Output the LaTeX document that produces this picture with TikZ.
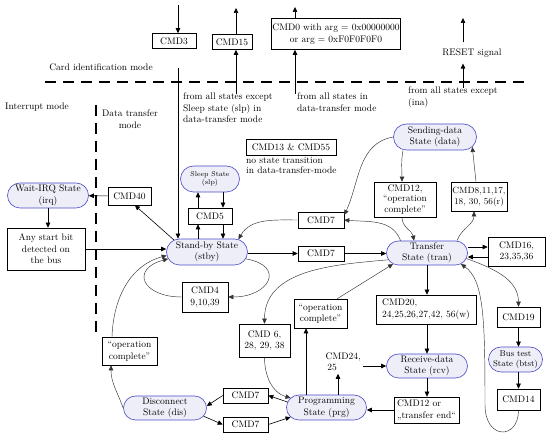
\documentclass[tikz,border=0pt]{standalone}
\usepackage{fontspec}
\usetikzlibrary{arrows.meta, shapes.misc}
\definecolor{lila}{HTML}{EEEEF9}
\definecolor{azulborde}{HTML}{4A4AC8}
\definecolor{grislinea}{HTML}{333333}

\begin{document}
\begin{tikzpicture}[
  x=1pt, y=-1pt,
  font=\fontsize{9.5}{11.5}\selectfont,
  estado/.style={rounded rectangle, draw=azulborde, fill=lila, line width=0.6pt, inner sep=0.5pt, align=center},
  caja/.style={draw, line width=0.6pt, inner sep=1pt, align=center},
  txt/.style={inner sep=0pt, align=left},
  arr/.style={-{Triangle[length=5pt,width=4.5pt]}, line width=0.6pt},
  curva/.style={-{Triangle[length=5pt,width=4.5pt]}, line width=0.45pt, grislinea},
  limite/.style={line width=1.3pt, dash pattern=on 11pt off 7pt},
]
\useasboundingbox (0,0) rectangle (558,443);

% --- Fila superior ---
\node[caja, minimum width=44pt, minimum height=15pt] (cmdiii) at (174,41) {CMD3};
\node[caja, minimum width=40pt, minimum height=15pt] (cmdxv) at (232,42) {CMD15};
\node[caja, minimum width=124pt, minimum height=31pt] (cmdzero) at (336,34) {CMD0 with arg = 0x00000000\\or arg = 0xF0F0F0F0};
\node[inner xsep=0pt, inner ysep=6pt] (reset) at (472,53) {RESET signal};
\node (cardmode) at (101,67) {Card identification mode};

\node[txt, anchor=north west] (fromslp) at (183,93) {from all states except\\Sleep state (slp) in\\data-transfer mode};
\node[txt, anchor=north west] (fromdt) at (297,93) {from all states in\\data-transfer mode};
\node[txt, anchor=north west] (fromina) at (408,87) {from all states except\\(ina)};

% --- Limites de modos ---
\draw[limite] (45,82) -- (528,82);
\draw[limite] (96,105) -- (96,332);
\node[anchor=west, inner sep=0pt] (intmode) at (5,107) {Interrupt mode};
\node[align=center, inner sep=0pt] (dtmode) at (130,119) {Data transfer\\mode};

\node[caja, minimum width=90pt, minimum height=16pt] (cmdxiii) at (291,147) {CMD13 \& CMD55};
\node[txt, anchor=north west, font=\fontsize{9.5}{10}\selectfont] (nota) at (246,157) {no state transition\\in data-transfer-mode};

% --- Estados y comandos ---
\node[estado, minimum width=84pt, minimum height=26pt] (data) at (435,137) {Sending-data\\State (data)};
\node[estado, minimum width=60pt, minimum height=26pt, font=\fontsize{7}{8.5}\selectfont] (slp) at (210,179) {Sleep State\\(slp)};
\node[estado, minimum width=82pt, minimum height=25pt] (irq) at (48,195.5) {Wait-IRQ State\\(irq)};
\node[caja, minimum width=43pt, minimum height=18pt] (cmdxl) at (129.5,196) {CMD40};
\node[caja, minimum width=62pt, minimum height=35pt, font=\fontsize{9.5}{10.5}\selectfont] (cmdxii) at (405,199.5) {CMD12,\\“operation\\complete”};
\node[caja, minimum width=56pt, minimum height=29pt, font=\fontsize{9}{11}\selectfont] (cmdviii) at (479,196.5) {CMD8,11,17,\\18, 30, 56(r)};
\node[caja, minimum width=44pt, minimum height=16pt] (cmdv) at (210,216) {CMD5};
\node[caja, minimum width=46pt, minimum height=16pt] (cmdviiup) at (321,220) {CMD7};
\node[caja, minimum width=78pt, minimum height=42pt] (anybit) at (46,249) {Any start bit\\detected on\\the bus};
\node[estado, minimum width=82pt, minimum height=26pt] (stby) at (207,252) {Stand-by State\\(stby)};
\node[caja, minimum width=46pt, minimum height=15pt] (cmdviilow) at (321,253.5) {CMD7};
\node[estado, minimum width=82pt, minimum height=24pt] (tran) at (427,253) {Transfer\\State (tran)};
\node[caja, minimum width=57pt, minimum height=29pt] (cmdxvi) at (516.5,251.5) {CMD16,\\23,35,36};
\node[caja, minimum width=46pt, minimum height=30pt] (cmdiv) at (205,297) {CMD4\\9,10,39};
\node[caja, minimum width=100pt, minimum height=29pt, align=left] (cmdxx) at (426,309.5) {CMD20,\\24,25,26,27,42, 56(w)};
\node[caja, minimum width=43pt, minimum height=20pt] (cmdxix) at (518.5,317) {CMD19};
\node[caja, minimum width=53pt, minimum height=29pt] (opcmid) at (320.5,313.5) {“operation\\complete”};
\node[caja, minimum width=51pt, minimum height=33pt] (cmdvi) at (264.5,340.5) {CMD 6,\\28, 29, 38};
\node[caja, minimum width=55pt, minimum height=28pt] (opcleft) at (129.5,351) {“operation\\complete”};
\node[estado, minimum width=55pt, minimum height=25pt, font=\fontsize{8.5}{10}\selectfont] (btst) at (515.5,359.5) {Bus test\\State (btst)};
\node[estado, minimum width=82pt, minimum height=24pt] (rcv) at (427,366) {Receive-data\\State (rcv)};
\node[txt, inner sep=2.5pt, anchor=north west] (cmdxxiv) at (323,350) {CMD24,\\\,25};
\node[caja, minimum width=43pt, minimum height=21pt] (cmdxiv) at (518.5,399.5) {CMD14};
\node[estado, minimum width=81pt, minimum height=25pt] (prg) at (326.5,407.5) {Programming\\State (prg)};
\node[caja, minimum width=65pt, minimum height=26pt, align=left] (cmdxiior) at (426.5,410) {CMD12 or\\„transfer end“};
\node[estado, minimum width=84pt, minimum height=24pt] (dis) at (165,408) {Disconnect\\State (dis)};
\node[caja, minimum width=45pt, minimum height=15pt] (cmdviia) at (245.5,395.5) {CMD7};
\node[caja, minimum width=45pt, minimum height=15pt] (cmdviib) at (245.5,424.5) {CMD7};

% --- Extremos libres ---
\coordinate (iniii) at (178,5);
\coordinate (gapiii) at (178,68);
\coordinate (outxv) at (236,8);
\coordinate (inxv) at (236,94);
\coordinate (outzero) at (295,7);
\coordinate (inzero) at (295,94);
\coordinate (outreset) at (463,18);
\coordinate (inreset) at (463,88);

\draw[arr] (iniii) -- (iniii |- cmdiii.north);
\draw[arr] (gapiii) -- (gapiii |- stby.north);
\draw[arr] (outxv |- cmdxv.north) -- (outxv);
\draw[arr] (inxv) -- (inxv |- cmdxv.south);
\draw[arr] (outzero |- cmdzero.north) -- (outzero);
\draw[arr] (inzero) -- (inzero |- cmdzero.south);
\draw[arr] (outreset |- reset.north) -- (outreset);
\draw[arr] (inreset) -- (inreset |- reset.south);

% --- Modo de interrupcion ---
\draw[arr] (cmdxl) -- (irq);
\draw[arr] (stby.160) -- (cmdxl.-60);
\draw[arr] (irq.south) -- (irq.south |- anybit.north);
\draw[arr] (anybit.east) -- (anybit.east -| stby.west);

% --- Stand-by y sleep ---
\draw[arr] (stby.north -| 198,0) -- (cmdv.south -| 198,0);
\draw[arr] (cmdv.north -| 198,0) -- (slp.south -| 198,0);
\draw[arr] (slp.south -| 223,0) -- (cmdv.north -| 223,0);
\draw[arr] (cmdv.south -| 223,0) -- (stby.north -| 223,0);
\draw[curva] (stby.-10) to[out=-10, in=0, looseness=2.5] (cmdiv.east);
\draw[curva] (cmdiv.west) to[out=180, in=195, looseness=2.5] (stby.190);

% --- Stand-by <-> transfer ---
\draw[arr] (stby.east |- cmdviilow.west) -- (cmdviilow.west);
\draw[arr] (cmdviilow.east) -- (cmdviilow.east -| tran.west);
\draw[curva] (cmdviiup.west) to[out=180, in=60] (stby.22);
\draw[curva] (tran.155) to[out=110, in=-5] (cmdviiup.east);
\draw[curva] (data.west) to[out=190, in=65] ([yshift=5pt]cmdviiup.east);

% --- Lectura ---
\draw[curva] (data.south -| 403,0) to[out=-100, in=90] (cmdxii.north -| 402,0);
\draw[curva] (cmdxii.south -| 402,0) to[out=-90, in=100] (tran.north -| 414,0);
\draw[curva] (tran.north -| 457,0) to[out=70, in=-90] (cmdviii.south -| 474,0);
\draw[curva] (cmdviii.north -| 476,0) -- (data.-15);
\draw[arr] (tran.east |- 0,247) -- (cmdxvi.west |- 0,247);
\draw[arr] (cmdxvi.west |- 0,257) -- (tran.east |- 0,257);

% --- Escritura ---
\draw[arr] (tran.south) -- (tran.south |- cmdxx.north);
\draw[arr] (cmdxx.south -| rcv.north) -- (rcv.north);
\draw[arr] (rcv.south) -- (rcv.south |- cmdxiior.north);
\draw[arr] (cmdxiior.west) -- (cmdxiior.west -| prg.east);
\draw[arr] (prg.north -| 338,0) -- (cmdxxiv.south -| 338,0);
\draw[arr] (cmdxxiv.east |- rcv.west) -- (rcv.west);
\draw[arr] (prg.north -| 306,0) -- (opcmid.south -| 306,0);
\draw[curva] ([xshift=-10pt]opcmid.north east) -- (tran.-162);
\draw[curva] (tran.190) to[out=185, in=90] (cmdvi.north);
\draw[curva] (cmdvi.south) to[out=-90, in=165] (prg.165);

% --- Desconexion ---
\draw[arr] (prg.172) -- (cmdviia.east);
\draw[arr] (cmdviib.east) -- (prg.-165);
\draw[arr] (cmdviia.west) -- ([yshift=2pt]dis.east);
\draw[arr] (dis.-12) -- (cmdviib.west);
\draw[curva] (dis.west) to[out=110, in=-90] (opcleft.south -| 111,0);
\draw[curva] (opcleft.north -| 112,0) to[out=88, in=195] (stby.185);

% --- Bus test ---
\draw[curva] (tran.-8) to[out=-20, in=90] (cmdxix.north);
\draw[arr] (cmdxix.south) -- (cmdxix.south |- btst.north);
\draw[arr] (btst.south -| cmdxiv.north) -- (cmdxiv.north);
\draw[curva] (cmdxiv.south) .. controls (518.5,440) and (485,440) .. (485,405)
  .. controls (485,320) and (484,280) .. (tran.-18);

\end{tikzpicture}
\end{document}
